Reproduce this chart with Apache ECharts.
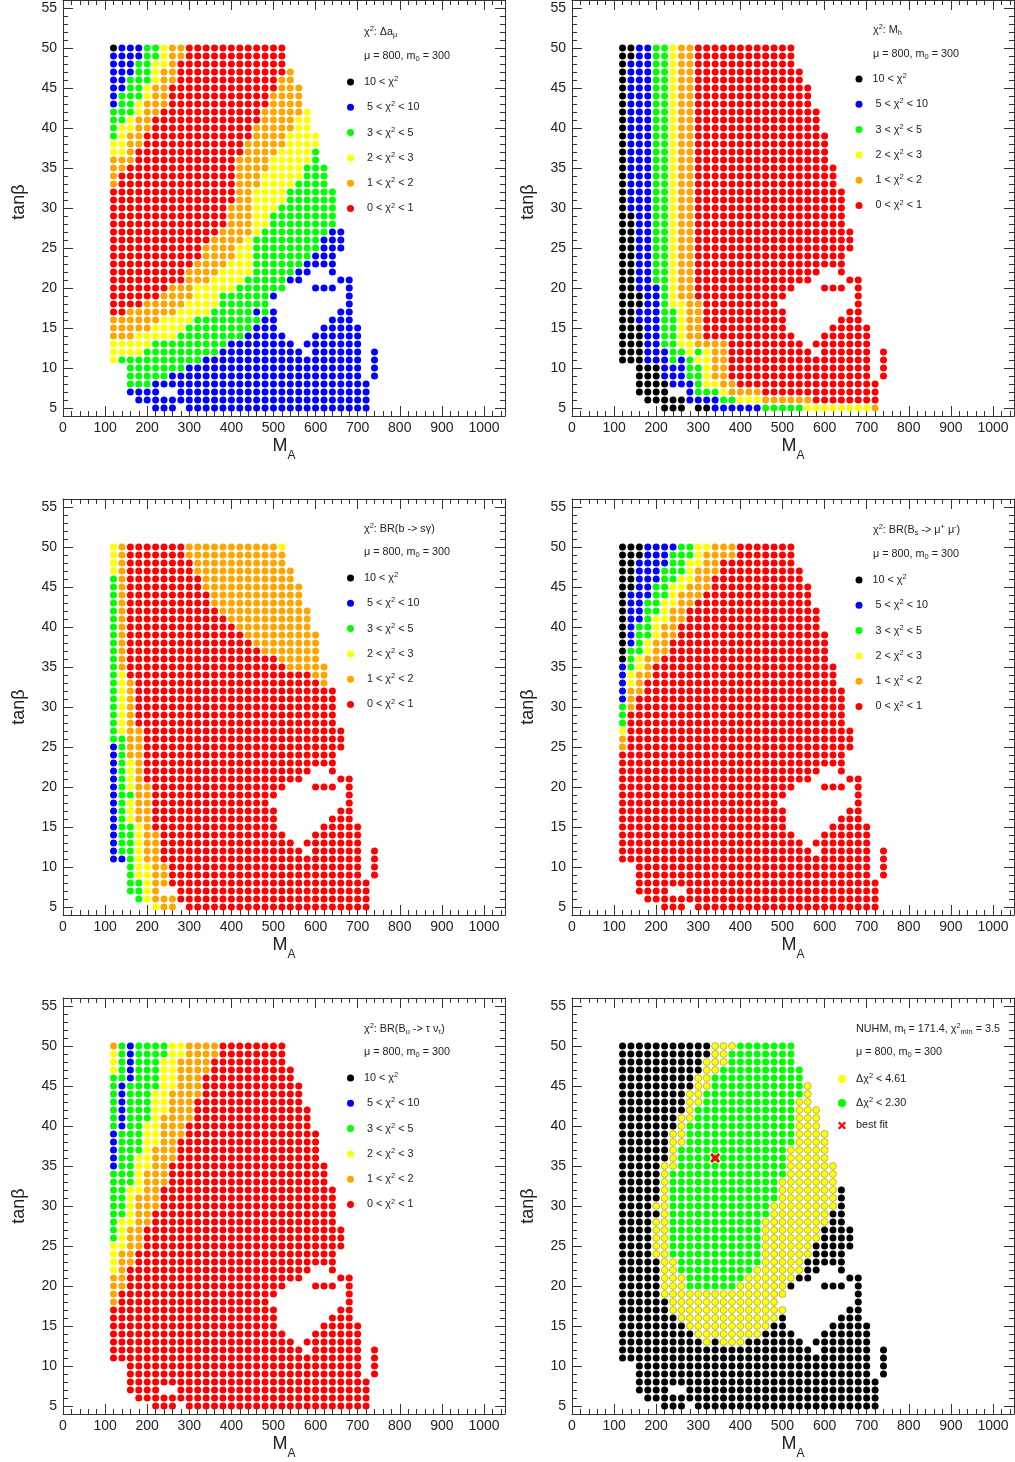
<!DOCTYPE html>
<html><head><meta charset="utf-8">
<style>html,body{margin:0;padding:0;background:#fff}#c{width:1015px;height:1462px}</style>
<script src="https://cdn.jsdelivr.net/npm/echarts@6/dist/echarts.min.js"></script>
</head><body><div id="c"></div>
<script>
// Scan grid of the parameter plane
const maScan=[120,140,160,180,200,220,240,260,280,300,320,340,360,380,400,420,440,460,480,500,520,540,560,580,600,620,640,660,680,700,720,740];
const tanbScan=[50,49,48,47,46,45,44,43,42,41,40,39,38,37,36,35,34,33,32,31,30,29,28,27,26,25,24,23,22,21,20,19,18,17,16,15,14,13,12,11,10,9,8,7,6,5];
// Which grid columns hold a point on each tanb row
const footprint=['0-20','0-20','0-20','0-21','0-21','0-22','0-22','0-22','0-23','0-23','0-23','0-24','0-24','0-24','0-24','0-25','0-25','0-25','0-26','0-26','0-26','0-26','0-26','0-27','0-27','0-27','0-26','0-26','0-23,26','0-22,27-28','0-20,24-26,28','0-19,28','0-18,28','0-19,27-28','0-19,26-28','0-19,25-29','0-20,24-29','0-21,23-29','0-22,24-29,31','0-29,31','2-29,31','2-29,31','2-30','2-5,8-30','3-30','5-7,9-30'];
// Class of each point per row: letter + last column of that run; whatever follows is red
const rowsAmu=['k0 b3 g5 y6 o8','b3 g5 y6 o8','b2 g4 y6 o7','b2 g4 y5 o7 r20 o31','b1 g4 y5 o7 r19 o31','b1 g3 y4 o6 r19 o31','b0 g3 y4 o6 r18 o31','b0 g2 y3 o6 r18 o31','g2 y3 o5 r17 o22 y31','g1 y2 o4 r17 o21 y31','g0 y2 o4 r16 o21 y31','g0 y1 o3 r16 o20 y31','y1 o3 r15 o20 y31','y1 o2 r15 o19 y23 g31','o2 r14 o18 y23 g31','o1 r14 o18 y22 g31','o0 r14 o17 y22 g31','o0 r14 o17 y21 g31','r14 o16 y20 g31','r14 o16 y20 g31','r13 o16 y19 g31','r13 o16 y18 g31','r13 o16 y18 g31','r12 o16 y17 g25 b31','r11 o15 y16 g24 b31','r10 o14 y16 g24 b31','r10 o14 y16 g23 b31','r9 o13 y16 g22 b31','r8 o12 y16 g21 b31','r8 o11 y15 g20 b31','r6 o9 y14 g20 b31','r5 o9 y12 g18 b31','r3 o8 y12 g18 b31','r1 o7 y11 g16 b17 g18 b31','o5 y9 g17 b31','o4 y8 g16 b31','o2 y7 g15 b31','y4 g13 b31','y3 g12 b31','y0 g10 b31','g8 b31','g6 b31','g4 b31','b31','b31','b31'];
const rowsMh=['k1 b3 g5 y6 o8','k1 b3 g5 y6 o8','k0 b3 g5 y6 o8','k0 b3 g5 y6 o8','k0 b3 g5 y6 o8','k0 b3 g5 y6 o8','k0 b3 g5 y6 o8','k0 b3 g5 y6 o8','k0 b3 g5 y6 o8','k0 b3 g5 y6 o8','k0 b3 g5 y6 o8','k0 b3 g5 y6 o8','k0 b3 g5 y6 o8','k0 b3 g5 y6 o8','k0 b3 g5 y6 o8','k0 b3 g5 y6 o8','k0 b3 g5 y6 o8','k0 b3 g5 y6 o8','k0 b3 g5 y6 o8','k0 b3 g5 y6 o8','k0 b3 g5 y6 o8','k1 b3 g5 y6 o8','k1 b3 g5 y6 o8','k1 b3 g5 y6 o8','k1 b3 g5 y6 o8','k1 b3 g5 y6 o8','k1 b3 g5 y6 o8','k1 b3 g5 y6 o8','k1 b3 g5 y6 o8','k1 b3 g5 y6 o8','k1 b4 g5 y6 o8','k2 b4 g5 y6 o8','k2 b4 g5 y7 o9','k1 b4 g6 y7 o9','k1 b4 g6 y7 o9','k2 b4 g6 y7 o9','k2 b4 g6 y7 o9','k2 b4 g6 y8 o12','k2 b5 g7 y8 g9 y10 o12','k2 b5 g6 b7 g8 y10 o12','k4 b7 g9 y10 o12','k4 b7 g9 y10 o12','k5 b8 g9 y11 o13','k5 b8 g11 y12 o16','k7 b11 g13 y16 o22','k10 b16 g21 y29 o31'];
const rowsBsg=['y0 o1 r8 o19 y31','y0 o1 r8 o31','y0 o1 r9 o31','y0 o1 r9 o31','g0 o1 r10 o31','g0 o1 r10 o31','g0 o1 r11 o31','g0 o1 r11 o31','g0 o1 r12 o31','g0 o1 r13 o31','g0 o1 r14 o31','g0 o1 r15 o31','g0 o1 r16 o31','g0 o1 r17 o31','g0 o1 r19 o31','g0 o1 r20 o31','g0 y1 r23 o31','g0 y1 o2 r24 o31','g0 y1 o2','g0 y1 o2','g0 y1 o2','g0 y1 o2','g0 y1 o2','g0 y1 o3','g1 o3','b0 g1 o3','b0 g1 o3','b0 g1 y2 o3','b0 g1 y2 o3','b0 g1 y2 o3','b0 g1 y2 o4','b0 g2 o4','b0 g1 y2 o4','b0 g1 y2 o4','b0 g1 y2 o4','b0 g2 y3 o4','b0 g2 y3 o5','b0 g2 y3 o5','b0 g2 y3 o5','b1 g2 y3 o5','g2 y4 o6','g2 y4 o6','g3 y4 o6','g3 y4 o5','g3 y4 o7','y5 o7'];
const rowsBsmm=['k2 b6 g8 y10 o13','k2 b5 g8 y9 o13','k1 b5 g7 y9 o11','k1 b4 g7 y8 o11','k1 b4 g6 y8 o10','k1 b3 g5 y7 o10','k0 b3 g5 y6 o9','k0 b2 g4 y6 o8','k0 b2 g4 y5 o7','k0 b2 g3 y5 o7','k0 b1 g3 y4 o6','k0 b1 g3 y4 o6','k0 b1 g2 y3 o5','k0 g2 y3 o5','k0 g1 y2 o4','b0 g1 y2 o3','b0 y1 o3','b0 y1 o2','b0 o2','b0 o1','g0 o1','g0','g0','y0','o0','o0','','','','','','','','','','','','','','','','','','','',''];
const rowsBtn=['o0 g1 b2 g6 y8 o12','y0 g1 b2 g6 y8 o12','y0 g1 b2 g5 y7 o11','y0 g1 b2 g5 y7 o11','g1 b2 g5 y7 o10','g0 b1 g5 y7 o10','g0 b1 g4 y6 o10','g0 b1 g4 y6 o9','g0 b1 g4 y6 o9','g0 b1 g4 y5 o9','g0 b1 g3 y5 o8','b0 g3 y5 o8','b0 g3 y5 o7','b0 g3 y4 o7','b0 g2 y4 o7','b0 g2 y4 o6','g2 y3 o6','g2 y3 o6','g1 y3 o5','g1 y2 o5','g1 y2 o5','g1 y2 o4','g0 y2 o4','g0 y1 o3','g0 y1 o3','y1 o3','y0 o2','y0 o2','y0 o1','o1','o1','o0','o0','','','','','','','','','','','','',''];
const rowsFit=['k10 y13 g31','k10 y12 g31','k9 y12 g31','k9 y11 g31','k8 y10 g31','k8 y10 g21 y31','k7 y9 g21 y31','k7 y9 g20 y31','k7 y8 g20 y31','k6 y8 g20 y31','k6 y7 g20 y31','k5 y7 g20 y31','k5 y7 g20 y31','k5 y6 g19 y31','k5 y6 g19 y31','k4 y6 g19 y31','k4 y5 g19 y31','k4 y5 g18 y31','k4 y5 g18 y25 k31','k4 y5 g18 y25 k31','k3 y5 g17 y25 k31','k4 y5 g17 y24 k31','k3 y5 g16 y24 k31','k3 y5 g16 y23 k31','k3 y5 g16 y23 k31','k3 y5 g16 y22 k31','k3 y5 g16 y22 k31','k4 y6 g16 y21 k31','k4 y6 g15 y21 k31','k4 y7 g14 y20 k31','k4 y7 g13 y19 k31','k4 y19 k31','k5 y18 k31','k5 y19 k31','k6 y18 k31','k7 y17 k31','k8 y16 k31','k9 y10 k11 y14 k31','k31','k31','k31','k31','k31','k31','k31','k31'];
const bestFit=[[340,36]];
const classNames=['10 < χ2','5 < χ2 < 10','3 < χ2 < 5','2 < χ2 < 3','1 < χ2 < 2','0 < χ2 < 1'];
const classKeys=['k','b','g','y','o','r'];
const classColors=['#000000','#0000ff','#00ff00','#ffff00','#ffa500','#ff0000'];
const fitNames=['Δχ2 < 4.61','Δχ2 < 2.30','best fit'];
const xMajor=[0,100,200,300,400,500,600,700,800,900,1000];
const yMajor=[5,10,15,20,25,30,35,40,45,50,55];
const xMinor=[];for(let v=20;v<1050;v+=20)if(v%100)xMinor.push(v);
const yMinor=[];for(let v=5;v<=55;v++)if(v%5)yMinor.push(v);

const FONT='Liberation Sans',INK='#222';
const base={fontFamily:FONT,color:INK,fontWeight:'normal'};
const rich={t:{...base,fontSize:10.8,lineHeight:14},u:{...base,fontSize:7.5,lineHeight:8,verticalAlign:'top'},d:{...base,fontSize:7.5,lineHeight:8,verticalAlign:'bottom'},p5:{width:5,fontSize:10},p8:{width:8,fontSize:10},p14:{width:5,fontSize:10}};
const m0='{t|μ = 800, m}{d|0}{t| = 300}';
const panels=[
 {rows:rowsAmu,gx:63,gy:0,head:'{t|χ}{u|2}{t|: Δa}{d|μ}',tx:364,h1:25,h2:49,lx:347,ly:75},
 {rows:rowsMh,gx:572,gy:0,head:'{t|χ}{u|2}{t|: M}{d|h}',tx:873,h1:23,h2:47,lx:855.5,ly:72},
 {rows:rowsBsg,gx:63,gy:499,head:'{t|χ}{u|2}{t|: BR(b -> sγ)}',tx:364,h1:522,h2:545,lx:347,ly:571},
 {rows:rowsBsmm,gx:572,gy:499,head:'{t|χ}{u|2}{t|: BR(B}{d|s}{t| -> μ}{u|+}{t| μ}{u|-}{t|)}',tx:873,h1:523,h2:547,lx:855.5,ly:573},
 {rows:rowsBtn,gx:63,gy:998,head:'{t|χ}{u|2}{t|: BR(B}{d|u}{t| -> τ ν}{d|τ}{t|)}',tx:364,h1:1022,h2:1045,lx:347,ly:1071},
 {rows:rowsFit,gx:572,gy:998,head:'{t|NUHM, m}{d|t}{t| = 171.4, χ}{u|2}{d|min}{t| = 3.5}',tx:856,h1:1022,h2:1045,lx:838,ly:1072,fit:true}
];
function expandMask(s){const a=new Set();s.split(',').forEach(r=>{const [p,q]=r.split('-').map(Number);for(let i=p;i<=(q===undefined?p:q);i++)a.add(i)});return a}
function decode(rows){
 const out={k:[],b:[],g:[],y:[],o:[],r:[]};
 rows.forEach((row,ri)=>{
  const mask=expandMask(footprint[ri]);let cur=0;
  const runs=row?row.split(' ').map(x=>[x[0],+x.slice(1)]):[];
  runs.push(['r',maScan.length-1]);
  runs.forEach(([c,last])=>{for(;cur<=last;cur++)if(mask.has(cur))out[c].push([maScan[cur],tanbScan[ri]])});
 });
 return out;
}
const grid=[],xAxis=[],yAxis=[],series=[],legend=[],title=[];
const line={lineStyle:{color:'#333',width:1}};
panels.forEach((P,i)=>{
 grid.push({left:P.gx,top:P.gy,width:442,height:416,containLabel:false,outerBoundsMode:'none'});
 const xb={gridIndex:i,type:'value',min:0,max:1050,splitLine:{show:false},axisPointer:{show:false}};
 const yb={gridIndex:i,type:'value',min:4,max:56,splitLine:{show:false}};
 const tick=(vals,len)=>({show:true,inside:true,length:len,customValues:vals,...line});
 xAxis.push({...xb,position:'bottom',axisLine:{show:true,onZero:false,...line},axisTick:tick(xMajor,10),
  axisLabel:{customValues:xMajor,margin:5,fontFamily:FONT,fontSize:14,color:INK,formatter:v=>String(v)},
  name:'{m|M}{s|A}',nameLocation:'middle',nameGap:19,
  nameTextStyle:{rich:{m:{fontFamily:FONT,fontSize:18,color:INK,lineHeight:22},s:{fontFamily:FONT,fontSize:12,color:INK,lineHeight:12,verticalAlign:'bottom',padding:[0,0,-5,0]}}}});
 xAxis.push({...xb,position:'bottom',axisLine:{show:false,onZero:false},axisTick:tick(xMinor,5),axisLabel:{show:false}});
 xAxis.push({...xb,position:'top',axisLine:{show:true,onZero:false,...line},axisTick:tick(xMajor,10),axisLabel:{show:false}});
 xAxis.push({...xb,position:'top',axisLine:{show:false,onZero:false},axisTick:tick(xMinor,5),axisLabel:{show:false}});
 yAxis.push({...yb,position:'left',axisLine:{show:true,onZero:false,...line},axisTick:tick(yMajor,10),
  axisLabel:{customValues:yMajor,margin:6,fontFamily:FONT,fontSize:14,color:INK},
  name:'tanβ',nameLocation:'middle',nameRotate:90,nameGap:35,nameTextStyle:{fontFamily:FONT,fontSize:18,color:INK,padding:i<2?[0,0,0,12]:0}});
 yAxis.push({...yb,position:'left',axisLine:{show:false,onZero:false},axisTick:tick(yMinor,5),axisLabel:{show:false}});
 yAxis.push({...yb,position:'right',axisLine:{show:true,onZero:false,...line},axisTick:tick(yMajor,10),axisLabel:{show:false}});
 yAxis.push({...yb,position:'right',axisLine:{show:false,onZero:false},axisTick:tick(yMinor,5),axisLabel:{show:false}});
 const d=decode(P.rows);
 const common={type:'scatter',xAxisIndex:4*i,yAxisIndex:4*i,symbolSize:7,silent:true,animation:false,z:3,clip:false};
 if(!P.fit){
  classKeys.forEach((k,j)=>series.push({...common,name:classNames[j],data:d[k],itemStyle:{color:classColors[j],opacity:1}}));
 }
 if(P.fit){
  series.push({...common,name:'excluded',data:d.k,itemStyle:{color:'#000000',opacity:1}});
  series.push({...common,name:fitNames[0],data:d.y,itemStyle:{color:'#ffff00',opacity:1,borderColor:'#8a8a55',borderWidth:0.6}});
  series.push({...common,name:fitNames[1],data:d.g,itemStyle:{color:'#00ff00',opacity:1}});
  series.push({...common,name:fitNames[2],data:bestFit,symbol:'path://M4 0L10 6L16 0L20 4L14 10L20 16L16 20L10 14L4 20L0 16L6 10L0 4Z',symbolSize:10,z:5,itemStyle:{color:'#ff0000',opacity:1}});
 }
 const fmt=n=>{
  const pad=n.startsWith('10')?'p5':(n.startsWith('Δ')||n.startsWith('best')?'p14':'p8');
  const [a,b]=n.split('χ2');
  if(b===undefined)return '{'+pad+'| }{t|'+n+'}';
  return '{'+pad+'| }{t|'+a+'χ}{u|2}'+(b?'{t|'+b+'}':'');
 };
 legend.push({data:P.fit?fitNames:classNames,left:P.lx,top:P.ly,orient:'vertical',padding:0,itemWidth:P.fit?8:7,itemHeight:P.fit?8:7,itemGap:P.fit?11.5:12.8,selectedMode:false,formatter:fmt,textStyle:{...base,fontSize:10.8,rich},itemStyle:{borderWidth:0}});
 title.push({text:P.head,left:P.tx,top:P.h1,padding:0,textStyle:{...base,fontSize:10.8,rich}});
 title.push({text:m0,left:P.tx,top:P.h2,padding:0,textStyle:{...base,fontSize:10.8,rich}});
});
const chart=echarts.init(document.getElementById('c'),null,{renderer:'canvas'});
chart.setOption({animation:false,backgroundColor:'#fff',grid,xAxis,yAxis,series,legend,title});
</script></body></html>
